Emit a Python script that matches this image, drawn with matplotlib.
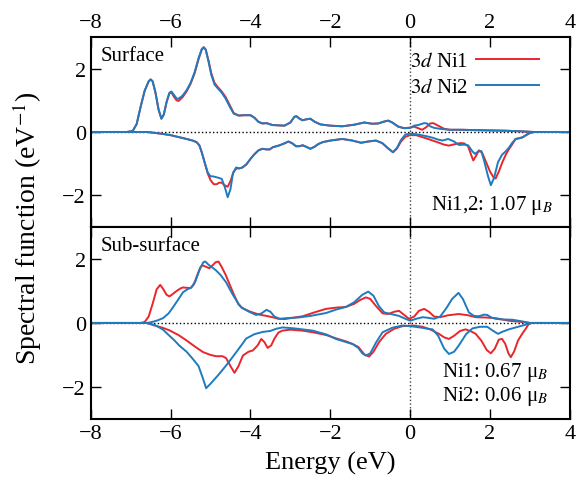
import matplotlib
matplotlib.use("Agg")
import matplotlib.pyplot as plt
import numpy as np

plt.rcParams["font.family"] = ["Liberation Serif", "DejaVu Serif"]
plt.rcParams["mathtext.fontset"] = "stix"

RED = "#e8262b"
BLUE = "#1f7bbf"

# ---- Surface, spin up ----
s_up1_e = [-8, -7.1, -6.95, -6.85, -6.75, -6.65, -6.55, -6.5, -6.45, -6.38, -6.3, -6.23, -6.17, -6.1,
           -6.03, -5.98, -5.92, -5.85, -5.8, -5.7, -5.6, -5.5, -5.4, -5.3, -5.22, -5.17, -5.12, -5.05,
           -4.98, -4.9, -4.82, -4.72, -4.62, -4.52, -4.42, -4.3, -4.15, -4.0, -3.9, -3.8, -3.7, -3.6,
           -3.45, -3.3, -3.15, -3.0, -2.9, -2.85, -2.78, -2.7, -2.6, -2.5, -2.4, -2.25, -2.0, -1.7,
           -1.4, -1.15, -0.95, -0.8, -0.65, -0.55, -0.45, -0.3, -0.15, 0.0, 0.1, 0.2, 0.3, 0.4, 0.5,
           0.58, 0.7, 0.85, 1.0, 1.3, 1.6, 2.0, 2.4, 2.8, 3.1, 4]
s_up1_v = [0, 0, 0.03, 0.25, 0.8, 1.3, 1.6, 1.66, 1.6, 1.25, 0.7, 0.42, 0.55, 0.95,
           1.22, 1.25, 1.12, 1.0, 0.98, 1.1, 1.28, 1.52, 1.85, 2.3, 2.6, 2.67, 2.6, 2.25,
           1.85, 1.55, 1.42, 1.28, 1.1, 0.85, 0.6, 0.52, 0.53, 0.53, 0.45, 0.32, 0.27, 0.28,
           0.22, 0.21, 0.2, 0.3, 0.48, 0.5, 0.43, 0.37, 0.4, 0.42, 0.33, 0.24, 0.2, 0.18,
           0.23, 0.3, 0.26, 0.27, 0.33, 0.36, 0.3, 0.17, 0.12, 0.14, 0.17, 0.12, 0.07, 0.15, 0.27,
           0.28, 0.2, 0.1, 0.07, 0.07, 0.06, 0.05, 0.04, 0.02, 0.0, 0]

s_up2_e = [-8, -7.1, -6.95, -6.85, -6.75, -6.65, -6.55, -6.5, -6.45, -6.38, -6.3, -6.23, -6.17, -6.1,
           -6.03, -5.98, -5.92, -5.85, -5.8, -5.7, -5.6, -5.5, -5.4, -5.3, -5.22, -5.17, -5.12, -5.05,
           -4.98, -4.9, -4.82, -4.72, -4.62, -4.52, -4.42, -4.3, -4.15, -4.0, -3.9, -3.8, -3.7, -3.6,
           -3.45, -3.3, -3.15, -3.0, -2.9, -2.85, -2.78, -2.7, -2.6, -2.5, -2.4, -2.25, -2.0, -1.7,
           -1.4, -1.15, -0.95, -0.8, -0.65, -0.55, -0.45, -0.3, -0.15, 0.0, 0.1, 0.2, 0.35, 0.42, 0.5,
           0.6, 0.75, 0.9, 1.0, 1.3, 1.6, 2.0, 2.4, 2.8, 3.1, 4]
s_up2_v = [0, 0, 0.03, 0.25, 0.8, 1.3, 1.6, 1.66, 1.6, 1.25, 0.7, 0.42, 0.55, 0.95,
           1.24, 1.28, 1.18, 1.06, 1.05, 1.15, 1.32, 1.55, 1.88, 2.33, 2.62, 2.68, 2.6, 2.22,
           1.8, 1.5, 1.38, 1.24, 1.05, 0.8, 0.58, 0.52, 0.53, 0.53, 0.45, 0.32, 0.27, 0.28,
           0.22, 0.21, 0.2, 0.3, 0.48, 0.5, 0.43, 0.37, 0.4, 0.42, 0.33, 0.24, 0.2, 0.18,
           0.23, 0.3, 0.26, 0.27, 0.33, 0.36, 0.3, 0.17, 0.12, 0.13, 0.2, 0.22, 0.28, 0.27, 0.18,
           0.13, 0.1, 0.08, 0.07, 0.07, 0.06, 0.05, 0.04, 0.02, 0.0, 0]

# ---- Surface, spin down ----
s_dn1_e = [-8, -6.6, -6.45, -6.2, -6.0, -5.8, -5.6, -5.45, -5.35, -5.28, -5.22, -5.15, -5.07, -5.0,
           -4.92, -4.85, -4.78, -4.72, -4.65, -4.57, -4.5, -4.42, -4.35, -4.28, -4.2, -4.1, -4.0,
           -3.9, -3.8, -3.7, -3.6, -3.52, -3.44, -3.35, -3.27, -3.15, -3.05, -2.95, -2.86, -2.78,
           -2.69, -2.6, -2.5, -2.4, -2.3, -2.19, -2.0, -1.7, -1.45, -1.23, -1.05, -0.86, -0.7, -0.55,
           -0.43, -0.33, -0.23, -0.12, 0.0, 0.15, 0.3, 0.45, 0.56, 0.7, 0.85, 0.97, 1.1, 1.25, 1.35,
           1.45, 1.52, 1.58, 1.65, 1.72, 1.8, 1.9, 2.0, 2.08, 2.14, 2.22, 2.31, 2.4, 2.47, 2.55, 2.64,
           2.72, 2.81, 2.9, 3.0, 3.1, 4]
s_dn1_v = [0, 0, -0.02, -0.06, -0.1, -0.16, -0.22, -0.27, -0.32, -0.42, -0.64, -0.95, -1.31, -1.52,
           -1.65, -1.65, -1.6, -1.6, -1.68, -1.73, -1.55, -1.25, -1.15, -1.15, -1.12, -1.02, -0.85,
           -0.7, -0.58, -0.53, -0.55, -0.55, -0.48, -0.45, -0.42, -0.36, -0.3, -0.36, -0.45, -0.45,
           -0.42, -0.47, -0.53, -0.47, -0.38, -0.32, -0.27, -0.22, -0.27, -0.34, -0.3, -0.27, -0.35, -0.52,
           -0.64, -0.52, -0.3, -0.15, -0.1, -0.1, -0.16, -0.22, -0.27, -0.33, -0.4, -0.43, -0.39, -0.35, -0.36,
           -0.45, -0.7, -0.9, -0.75, -0.58, -0.65, -0.95, -1.25, -1.42, -1.47, -1.25, -0.95, -0.7, -0.55, -0.4, -0.22,
           -0.2, -0.17, -0.1, -0.03, 0, 0]

s_dn2_e = [-8, -6.6, -6.45, -6.2, -6.0, -5.8, -5.6, -5.45, -5.35, -5.28, -5.22, -5.15, -5.07, -5.0,
           -4.94, -4.82, -4.72, -4.64, -4.57, -4.5, -4.44, -4.36, -4.28, -4.2, -4.1, -4.0,
           -3.9, -3.8, -3.7, -3.6, -3.52, -3.44, -3.35, -3.27, -3.15, -3.05, -2.95, -2.86, -2.78,
           -2.69, -2.6, -2.5, -2.4, -2.3, -2.19, -2.0, -1.7, -1.45, -1.23, -1.05, -0.86, -0.7, -0.55,
           -0.43, -0.33, -0.23, -0.12, 0.0, 0.2, 0.4, 0.56, 0.7, 0.81, 0.95, 1.1, 1.22, 1.35,
           1.45, 1.55, 1.62, 1.7, 1.78, 1.85, 1.95, 2.02, 2.1, 2.2, 2.3, 2.4, 2.47, 2.55, 2.64,
           2.72, 2.81, 2.9, 3.0, 3.1, 4]
s_dn2_v = [0, 0, -0.02, -0.06, -0.1, -0.16, -0.22, -0.27, -0.32, -0.42, -0.64, -0.95, -1.28, -1.4,
           -1.4, -1.44, -1.48, -1.75, -2.06, -1.8, -1.31, -1.12, -1.15, -1.12, -1.02, -0.85,
           -0.7, -0.58, -0.53, -0.55, -0.55, -0.48, -0.45, -0.42, -0.36, -0.3, -0.36, -0.45, -0.45,
           -0.42, -0.47, -0.53, -0.47, -0.38, -0.32, -0.27, -0.22, -0.27, -0.34, -0.3, -0.27, -0.35, -0.52,
           -0.64, -0.5, -0.25, -0.08, -0.05, -0.08, -0.13, -0.18, -0.24, -0.27, -0.22, -0.3, -0.41, -0.4,
           -0.42, -0.6, -0.69, -0.62, -0.6, -0.9, -1.4, -1.68, -1.45, -0.95, -0.72, -0.6, -0.5, -0.35, -0.22,
           -0.2, -0.17, -0.1, -0.03, 0, 0]

# ---- Sub-surface, spin up ----
b_up1_e = [-8, -6.75, -6.65, -6.55, -6.45, -6.35, -6.26, -6.18, -6.1, -6.03, -5.95, -5.85, -5.75, -5.69,
           -5.6, -5.5, -5.42, -5.33, -5.25, -5.2, -5.12, -5.03, -4.95, -4.87, -4.8, -4.72, -4.62, -4.53,
           -4.42, -4.3, -4.2, -4.0, -3.78, -3.6, -3.45, -3.3, -3.15, -2.9, -2.69, -2.4, -2.11, -1.85,
           -1.61, -1.4, -1.25, -1.11, -1.0, -0.85, -0.69, -0.55, -0.4, -0.28, -0.15, -0.03, 0.1, 0.22,
           0.35, 0.47, 0.6, 0.75, 0.95, 1.22, 1.45, 1.64, 1.9, 2.14, 2.47, 2.8, 3.0, 4]
b_up1_v = [0, 0, 0.03, 0.2, 0.6, 1.05, 1.19, 1.05, 0.88, 0.83, 0.9, 1.0, 1.08, 1.11,
           1.1, 1.09, 1.2, 1.5, 1.75, 1.8, 1.76, 1.71, 1.8, 1.9, 1.92, 1.75, 1.5, 1.23,
           0.9, 0.58, 0.46, 0.35, 0.26, 0.22, 0.18, 0.13, 0.12, 0.17, 0.21, 0.33, 0.44, 0.48,
           0.5, 0.6, 0.72, 0.8, 0.75, 0.52, 0.3, 0.28, 0.35, 0.38, 0.25, 0.13, 0.2, 0.38,
           0.44, 0.35, 0.2, 0.18, 0.24, 0.28, 0.24, 0.18, 0.17, 0.15, 0.07, 0.03, 0.0, 0]

b_up2_e = [-8, -6.6, -6.5, -6.35, -6.19, -6.05, -5.94, -5.8, -5.69, -5.58, -5.48, -5.38, -5.28, -5.18,
           -5.13, -5.05, -4.95, -4.86, -4.75, -4.61, -4.45, -4.3, -4.23, -4.05, -3.86, -3.72, -3.6,
           -3.5, -3.4, -3.27, -3.1, -2.8, -2.5, -2.11, -1.85, -1.61, -1.4, -1.2, -1.05, -0.92, -0.78,
           -0.65, -0.45, -0.28, -0.1, 0.0, 0.15, 0.31, 0.45, 0.6, 0.75, 0.9, 1.05, 1.21, 1.32, 1.47,
           1.6, 1.72, 1.85, 1.93, 2.05, 2.14, 2.3, 2.56, 2.8, 3.0, 4]
b_up2_v = [0, 0, 0.02, 0.07, 0.15, 0.3, 0.49, 0.75, 0.96, 1.05, 1.11, 1.3, 1.65, 1.9,
           1.92, 1.82, 1.73, 1.64, 1.5, 1.27, 0.9, 0.6, 0.49, 0.36, 0.25, 0.3, 0.41,
           0.35, 0.2, 0.13, 0.15, 0.17, 0.22, 0.31, 0.42, 0.5, 0.65, 0.88, 0.98, 0.85, 0.52,
           0.33, 0.27, 0.22, 0.12, 0.07, 0.13, 0.18, 0.16, 0.13, 0.2, 0.45, 0.75, 0.94, 0.75, 0.33,
           0.22, 0.21, 0.26, 0.25, 0.16, 0.13, 0.11, 0.1, 0.05, 0, 0]

# ---- Sub-surface, spin down ----
b_dn1_e = [-8, -6.6, -6.4, -6.2, -6.03, -5.8, -5.61, -5.4, -5.19, -5.0, -4.86, -4.7, -4.61, -4.5,
           -4.4, -4.3, -4.19, -4.05, -3.94, -3.82, -3.73, -3.65, -3.57, -3.48, -3.4, -3.3, -3.2, -3.0,
           -2.7, -2.44, -2.1, -1.86, -1.6, -1.44, -1.3, -1.15, -1.03, -0.92, -0.78, -0.61, -0.4, -0.19,
           0.06, 0.31, 0.5, 0.72, 0.85, 0.97, 1.1, 1.25, 1.39, 1.52, 1.64, 1.78, 1.92, 2.02, 2.12,
           2.22, 2.3, 2.38, 2.46, 2.52, 2.6, 2.7, 2.8, 2.9, 2.97, 3.05, 4]
b_dn1_v = [0, 0, -0.08, -0.15, -0.23, -0.38, -0.54, -0.73, -0.91, -1.0, -1.04, -1.04, -1.1, -1.35,
           -1.56, -1.35, -1.02, -0.9, -0.86, -0.7, -0.5, -0.6, -0.78, -0.7, -0.49, -0.3, -0.24, -0.21,
           -0.24, -0.29, -0.38, -0.48, -0.58, -0.66, -0.75, -0.98, -1.05, -0.9, -0.6, -0.34, -0.18, -0.1,
           -0.08, -0.12, -0.2, -0.34, -0.45, -0.5, -0.4, -0.25, -0.2, -0.26, -0.34, -0.55, -0.85, -0.95, -0.8,
           -0.52, -0.5, -0.65, -0.95, -1.07, -0.9, -0.55, -0.35, -0.17, -0.03, 0, 0]

b_dn2_e = [-8, -6.6, -6.4, -6.2, -6.03, -5.9, -5.78, -5.6, -5.44, -5.3, -5.2, -5.11, -5.0, -4.8,
           -4.61, -4.48, -4.36, -4.2, -4.11, -3.9, -3.69, -3.5, -3.35, -3.19, -2.9, -2.44, -2.1, -1.86,
           -1.6, -1.44, -1.3, -1.2, -1.11, -1.0, -0.85, -0.69, -0.45, -0.19, 0.06, 0.3, 0.47, 0.56,
           0.7, 0.85, 0.97, 1.1, 1.22, 1.4, 1.56, 1.75, 1.93, 2.08, 2.2, 2.3, 2.47, 2.7, 2.9, 3.05, 4]
b_dn2_v = [0, 0, -0.06, -0.2, -0.4, -0.55, -0.71, -0.9, -1.13, -1.35, -1.7, -2.04, -1.9, -1.62,
           -1.33, -1.12, -0.92, -0.65, -0.49, -0.35, -0.28, -0.25, -0.18, -0.14, -0.17, -0.24, -0.36, -0.5,
           -0.6, -0.66, -0.78, -0.95, -1.02, -0.95, -0.6, -0.29, -0.15, -0.08, -0.11, -0.15, -0.19, -0.2,
           -0.4, -0.8, -0.97, -0.9, -0.7, -0.35, -0.17, -0.12, -0.12, -0.25, -0.34, -0.28, -0.2, -0.12, -0.05, 0, 0]

xticks = [-8, -6, -4, -2, 0, 2, 4]
yticks = [-2, 0, 2]

fig = plt.figure(figsize=(5.78, 4.81), dpi=100)
ax1 = fig.add_axes([0.157, 0.526, 0.829, 0.395])
ax2 = fig.add_axes([0.157, 0.127, 0.829, 0.399])

for ax in (ax1, ax2):
    ax.axhline(0, color="black", ls=":", lw=1.0, zorder=1)
    ax.axvline(0, color="#444444", ls=":", lw=1.0, zorder=1)
    ax.set_xlim(-8, 4)
    ax.set_ylim(-3, 3)
    ax.set_xticks(xticks)
    ax.set_yticks(yticks)
    ax.tick_params(direction="in", length=7, width=1.0, top=True, right=True, labelsize=16)
    for sp in ax.spines.values():
        sp.set_linewidth(1.5)
    ax.set_yticklabels([str(t).replace("-", "\u2212") for t in yticks])

lw = 1.4
ax1.plot(s_up1_e, s_up1_v, color=RED, lw=lw, label=r"$\mathit{3d}$ Ni1")
ax1.plot(s_up2_e, s_up2_v, color=BLUE, lw=lw, label=r"$\mathit{3d}$ Ni2")
ax1.plot(s_dn1_e, s_dn1_v, color=RED, lw=lw)
ax1.plot(s_dn2_e, s_dn2_v, color=BLUE, lw=lw)

ax2.plot(b_up1_e, b_up1_v, color=RED, lw=lw)
ax2.plot(b_up2_e, b_up2_v, color=BLUE, lw=lw)
ax2.plot(b_dn1_e, b_dn1_v, color=RED, lw=lw)
ax2.plot(b_dn2_e, b_dn2_v, color=BLUE, lw=lw)

ax1.tick_params(labeltop=True, labelbottom=False)
ax1.set_xticklabels([str(t).replace("-", "\u2212") for t in xticks])
ax2.set_xticklabels([str(t).replace("-", "\u2212") for t in xticks])

ax1.text(0.021, 0.95, "Surface", transform=ax1.transAxes, fontsize=15, va="top")
ax2.text(0.021, 0.955, "Sub-surface", transform=ax2.transAxes, fontsize=15, va="top")
ax1.text(0.965, 0.06, "Ni1,2: 1.07 \u03bc$_B$", transform=ax1.transAxes, fontsize=15,
         ha="right", va="bottom")
ax2.text(0.955, 0.06, "Ni1: 0.67 \u03bc$_B$\nNi2: 0.06 \u03bc$_B$", transform=ax2.transAxes,
         fontsize=15, ha="right", va="bottom", linespacing=1.1)

ax1.legend(loc="upper right", frameon=False, fontsize=15, markerfirst=False,
           handlelength=3.0, handletextpad=0.4, borderaxespad=0.3, labelspacing=0.3,
           bbox_to_anchor=(0.965, 1.0))

ax2.set_xlabel("Energy (eV)", fontsize=19, labelpad=6)
fig.text(0.047, 0.525, "Spectral function (eV$^{-1}$)", rotation=90, fontsize=20,
         ha="center", va="center")

fig.savefig("out.png", dpi=100)
